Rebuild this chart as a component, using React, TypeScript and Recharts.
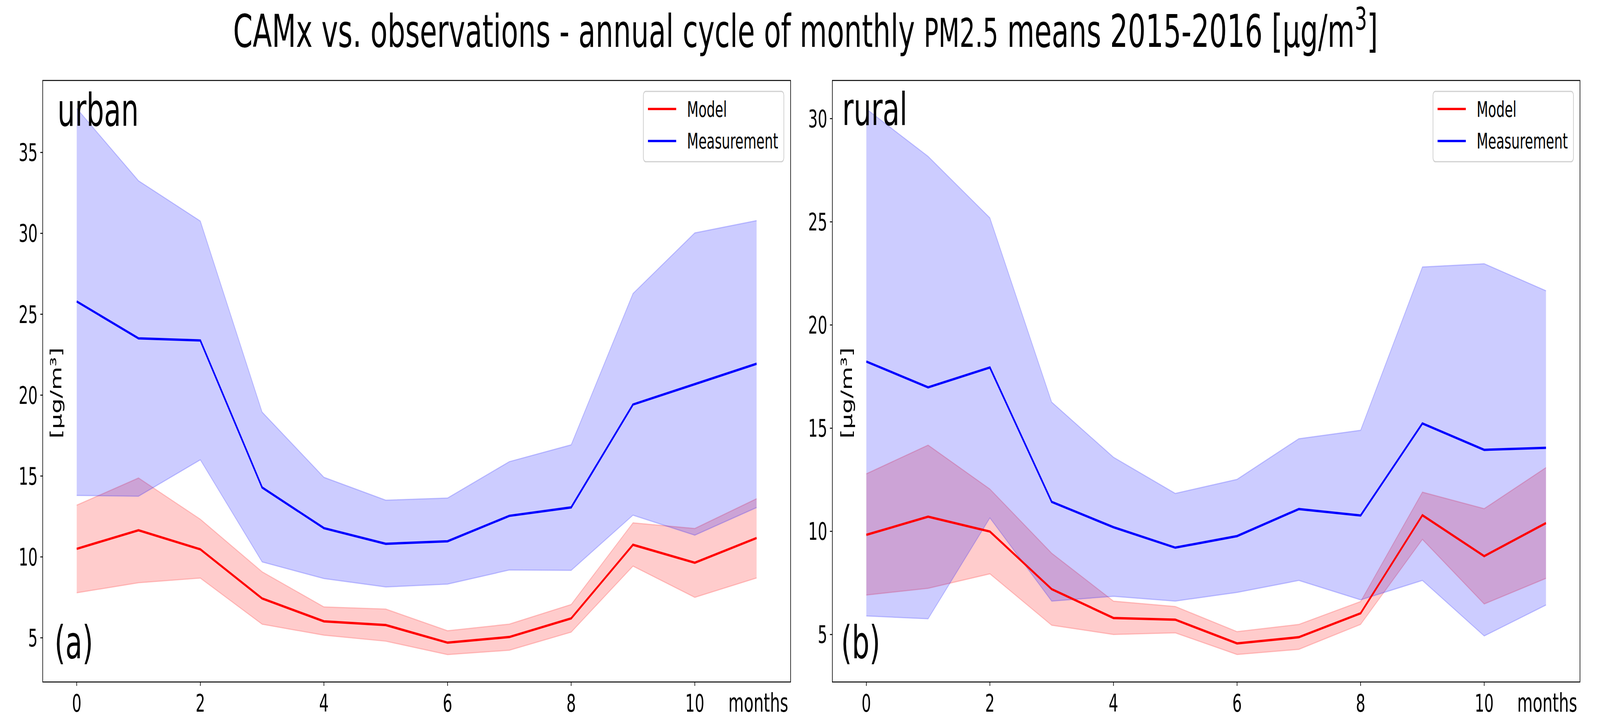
import React from "react";
import { Area, ComposedChart, Line, ReferenceArea, XAxis, YAxis } from "recharts";

const months = [0, 1, 2, 3, 4, 5, 6, 7, 8, 9, 10, 11];
const xTicks = [0, 2, 4, 6, 8, 10];
const urbanTicks = [5, 10, 15, 20, 25, 30, 35];
const ruralTicks = [5, 10, 15, 20, 25, 30];

// urban stations
const urbanModel = [10.5, 11.65, 10.47, 7.43, 6.02, 5.79, 4.7, 5.05, 6.2, 10.75, 9.64, 11.17];
const urbanModelLow = [7.78, 8.4, 8.69, 5.84, 5.16, 4.79, 3.96, 4.23, 5.35, 9.43, 7.5, 8.7];
const urbanModelHigh = [13.2, 14.88, 12.33, 9.08, 6.91, 6.78, 5.44, 5.85, 7.06, 12.11, 11.76, 13.6];
const urbanObs = [25.79, 23.51, 23.38, 14.29, 11.78, 10.81, 10.97, 12.54, 13.06, 19.42, 20.68, 21.94];
const urbanObsLow = [13.8, 13.75, 16.0, 9.69, 8.66, 8.14, 8.32, 9.19, 9.17, 12.58, 11.34, 13.05];
const urbanObsHigh = [37.72, 33.25, 30.76, 18.95, 14.92, 13.51, 13.64, 15.89, 16.93, 26.28, 30.03, 30.79];

// rural stations
const ruralModel = [9.83, 10.71, 9.99, 7.2, 5.8, 5.72, 4.57, 4.87, 6.03, 10.78, 8.8, 10.4];
const ruralModelLow = [6.91, 7.24, 7.94, 5.45, 5.0, 5.08, 4.03, 4.28, 5.49, 9.61, 6.48, 7.72];
const ruralModelHigh = [12.79, 14.18, 12.05, 8.94, 6.62, 6.36, 5.14, 5.49, 6.6, 11.9, 11.1, 13.09];
const ruralObs = [18.23, 16.98, 17.94, 11.43, 10.2, 9.21, 9.77, 11.08, 10.77, 15.23, 13.95, 14.05];
const ruralObsLow = [5.9, 5.76, 10.65, 6.62, 6.85, 6.62, 7.04, 7.62, 6.68, 7.62, 4.93, 6.43];
const ruralObsHigh = [30.47, 28.17, 25.19, 16.26, 13.59, 11.84, 12.52, 14.49, 14.9, 22.81, 22.97, 21.66];

const FONT = "DejaVu Sans";
const X_DOMAIN = [-0.55, 11.55];
const FIG_W = 6630;
const FIG_H = 1851;

function buildRows(model, modelLow, modelHigh, obs, obsLow, obsHigh) {
  return months.map((m, i) => ({
    month: m,
    model: model[i],
    modelRange: [modelLow[i], modelHigh[i]],
    obs: obs[i],
    obsRange: [obsLow[i], obsHigh[i]],
  }));
}

const urbanRows = buildRows(urbanModel, urbanModelLow, urbanModelHigh, urbanObs, urbanObsLow, urbanObsHigh);
const ruralRows = buildRows(ruralModel, ruralModelLow, ruralModelHigh, ruralObs, ruralObsLow, ruralObsHigh);

function Panel({ left, width, axisWidth, rightMargin, data, yDomain, yTicks }) {
  const tick = { fontSize: 62, fill: "#000", fontFamily: FONT };
  return (
    <div style={{ position: "absolute", left, top: 0 }}>
      <ComposedChart
        width={width}
        height={FIG_H}
        data={data}
        margin={{ top: 206, right: rightMargin, bottom: 0, left: 0 }}
      >
        <XAxis
          dataKey="month"
          type="number"
          domain={X_DOMAIN}
          ticks={xTicks}
          interval={0}
          allowDataOverflow
          height={105}
          axisLine={false}
          tickLine={{ stroke: "#000", strokeWidth: 2.5 }}
          tickSize={10}
          tickMargin={22}
          tick={tick}
        />
        <YAxis
          type="number"
          domain={yDomain}
          ticks={yTicks}
          interval={0}
          allowDataOverflow
          width={axisWidth}
          axisLine={false}
          tickLine={{ stroke: "#000", strokeWidth: 2.5 }}
          tickSize={10}
          tickMargin={11}
          tick={tick}
        />
        <Area
          type="linear"
          dataKey="modelRange"
          fill="#ff0000"
          fillOpacity={0.2}
          stroke="#ff0000"
          strokeOpacity={0.2}
          strokeWidth={3}
          isAnimationActive={false}
          activeDot={false}
        />
        <Area
          type="linear"
          dataKey="obsRange"
          fill="#0000ff"
          fillOpacity={0.2}
          stroke="#0000ff"
          strokeOpacity={0.2}
          strokeWidth={3}
          isAnimationActive={false}
          activeDot={false}
        />
        <Line
          type="linear"
          dataKey="model"
          stroke="#ff0000"
          strokeWidth={6}
          dot={false}
          activeDot={false}
          isAnimationActive={false}
        />
        <Line
          type="linear"
          dataKey="obs"
          stroke="#0000ff"
          strokeWidth={6}
          dot={false}
          activeDot={false}
          isAnimationActive={false}
        />
        <ReferenceArea
          x1={X_DOMAIN[0]}
          x2={X_DOMAIN[1]}
          y1={yDomain[0]}
          y2={yDomain[1]}
          fill="none"
          stroke="#000"
          strokeWidth={2.5}
          ifOverflow="visible"
        />
      </ComposedChart>
    </div>
  );
}

function Legend({ x }) {
  return (
    <g>
      <rect x={x} y={234} width={582} height={180} rx={10} fill="#fff" fillOpacity={0.8} stroke="#d0d0d0" strokeWidth={3} />
      <line x1={x + 19} x2={x + 136} y1={279} y2={279} stroke="#ff0000" strokeWidth={6} />
      <line x1={x + 19} x2={x + 136} y1={361} y2={361} stroke="#0000ff" strokeWidth={6} />
      <text x={x + 181} y={299} fontSize={55}>Model</text>
      <text x={x + 181} y={380} fontSize={55}>Measurement</text>
    </g>
  );
}

function Labels() {
  return (
    <svg
      width={FIG_W}
      height={FIG_H}
      style={{ position: "absolute", left: 0, top: 0, pointerEvents: "none" }}
      fontFamily={FONT}
    >
      <text x={3338} y={120} textAnchor="middle" fontSize={116}>
        CAMx vs. observations - annual cycle of monthly <tspan fontSize={101}>PM2.5</tspan> means 2015-2016 [μg/m
        <tspan fontSize={80} dy={-44}>3</tspan>
        <tspan dy={44}>]</tspan>
      </text>

      <text x={238} y={322} fontSize={115}>urban</text>
      <text x={226} y={1685} fontSize={115}>(a)</text>
      <text x={3490} y={320} fontSize={115}>rural</text>
      <text x={3485} y={1685} fontSize={115}>(b)</text>

      <text transform="translate(232,1006) rotate(-90)" textAnchor="middle" dominantBaseline="central" fontSize={62}>
        [μg/m³]
      </text>
      <text transform="translate(3509,1006) rotate(-90)" textAnchor="middle" dominantBaseline="central" fontSize={62}>
        [μg/m³]
      </text>

      <text x={3018} y={1822} fontSize={66}>months</text>
      <text x={6287} y={1822} fontSize={66}>months</text>

      <Legend x={2666} />
      <Legend x={5938} />
    </svg>
  );
}

export default function App() {
  // the browser window is capped narrower than the figure, so squeeze it horizontally to fit
  const viewW = typeof window !== "undefined" ? window.innerWidth : FIG_W;
  const sx = Math.min(1, viewW / FIG_W);
  return (
    <div
      style={{
        position: "absolute",
        left: 0,
        top: 0,
        width: FIG_W,
        height: FIG_H,
        background: "#fff",
        overflow: "hidden",
        fontFamily: FONT,
        transform: `scale(${sx}, 1)`,
        transformOrigin: "0 0",
      }}
    >
      <Panel
        left={0}
        width={3300}
        axisWidth={177}
        rightMargin={24}
        data={urbanRows}
        yDomain={[2.27, 39.45]}
        yTicks={urbanTicks}
      />
      <Panel
        left={3300}
        width={3330}
        axisWidth={149}
        rightMargin={83}
        data={ruralRows}
        yDomain={[2.7, 31.85]}
        yTicks={ruralTicks}
      />
      <Labels />
    </div>
  );
}
